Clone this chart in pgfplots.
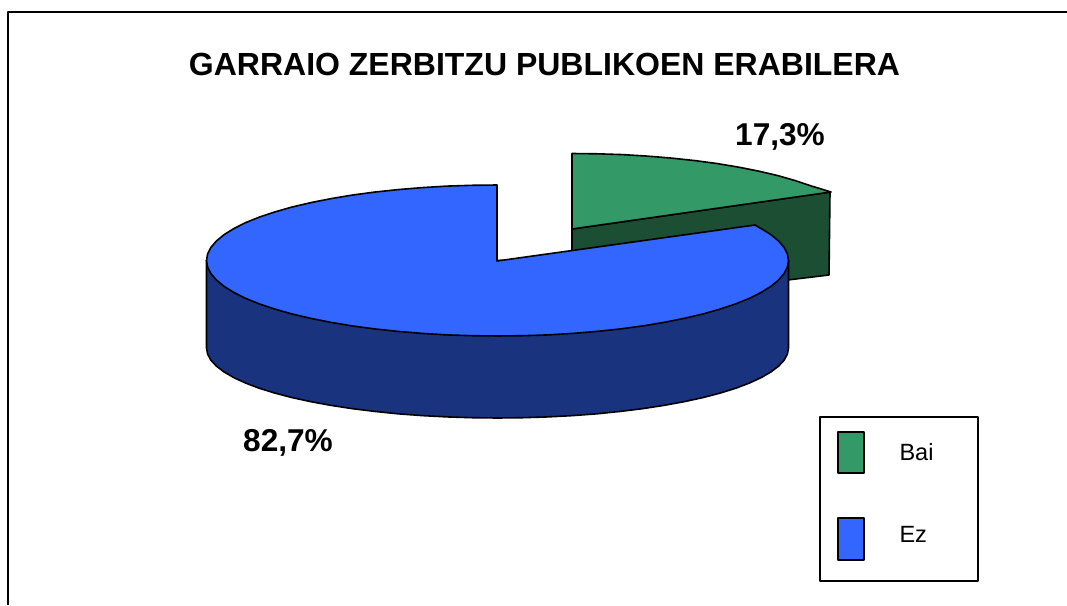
\documentclass[border=0pt]{standalone}
\usepackage{pgfplots}
\pgfplotsset{compat=1.18}
\usepackage{fontspec}
\setmainfont{Liberation Sans}
\definecolor{gtop}{HTML}{339966}
\definecolor{gside}{HTML}{1C4E33}
\definecolor{btop}{HTML}{3366FF}
\definecolor{bside}{HTML}{19337F}
\begin{document}
\begin{tikzpicture}
\path[use as bounding box] (0,0) rectangle (1067pt,605pt);
\begin{axis}[
  at={(0,0)}, anchor=south west,
  scale only axis, width=1067pt, height=605pt,
  xmin=0, xmax=1067, ymin=0, ymax=605, y dir=reverse,
  hide axis, clip=true,
  every axis plot/.append style={line join=round, mark=none}
]
% outer frame
\addplot[black, line width=2.4pt] coordinates {(8,605)(8,12)(1067,12)};
% green slice: side wall
\addplot[fill=gside, draw=black, line width=1.6pt] coordinates {(572,229)(830,192)(829,275)(572,306)} -- cycle;
% green slice: top
\addplot[fill=gtop, draw=black, line width=1.6pt] coordinates {
(572,153.5)(597.4,153.8)(622.5,154.6)(647.3,156.1)(671.5,158.1)(695,160.6)(717.5,163.6)(738.9,167.2)(759,171.2)(777.8,175.6)(794.9,180.5)(810.4,185.7)(831,192)(572,229)} -- cycle;
% blue slice: side wall
\addplot[fill=bside, draw=black, line width=1.6pt] coordinates {
(206.5,260.5)(206.5,348)(207.6,354.1)(210.9,360.2)(216.4,366.1)(224,371.9)(233.8,377.6)(245.5,383)(259.1,388.2)(274.6,393)(291.7,397.5)(310.5,401.6)(330.6,405.3)(352,408.6)(374.5,411.4)(398,413.8)(422.2,415.6)(447,416.9)(472.1,417.7)(497.5,418)
(522.9,417.7)(548,416.9)(572.8,415.6)(597,413.8)(620.5,411.4)(643,408.6)(664.4,405.3)(684.5,401.6)(703.3,397.5)(720.4,393)(735.9,388.2)(749.5,383)(761.2,377.6)(771,371.9)(778.6,366.1)(784.1,360.2)(787.4,354.1)(788.5,348)(788.5,260.5)} -- cycle;
% blue slice: top
\addplot[fill=btop, draw=black, line width=1.6pt] coordinates {
(497,185)(472.1,185.3)(447,186.1)(422.2,187.6)(398,189.6)(374.5,192.1)(352,195.1)(330.6,198.7)(310.5,202.7)(291.7,207.1)(274.6,212)(259.1,217.2)(245.5,222.7)(233.8,228.6)(224,234.7)(216.4,241)(210.9,247.4)(207.6,253.9)(206.5,260.5)
(207.6,267.1)(210.9,273.6)(216.4,280)(224,286.3)(233.8,292.4)(245.5,298.3)(259.1,303.8)(274.6,309)(291.7,313.9)(310.5,318.3)(330.6,322.3)(352,325.9)(374.5,328.9)(398,331.4)(422.2,333.4)(447,334.9)(472.1,335.7)(497.5,336)
(522.9,335.7)(548,334.9)(572.8,333.4)(597,331.4)(620.5,328.9)(643,325.9)(664.4,322.3)(684.5,318.3)(703.3,313.9)(720.4,309)(735.9,303.8)(749.5,298.3)(761.2,292.4)(771,286.3)(778.6,280)(784.1,273.6)(787.4,267.1)(788.5,260.5)
(787.4,253.9)(784.1,247.4)(778.6,241)(771,234.7)(761.2,228.6)(755,225)(497,261)} -- cycle;
% legend
\addplot[fill=white, draw=black, line width=1.8pt] coordinates {(820,417)(978,417)(978,581)(820,581)} -- cycle;
\addplot[fill=gtop, draw=black, line width=1.5pt] coordinates {(838,432)(864,432)(864,473)(838,473)} -- cycle;
\addplot[fill=btop, draw=black, line width=1.5pt] coordinates {(838,518)(864,518)(864,560)(838,560)} -- cycle;
\node[anchor=west, font=\fontsize{23.5}{26}\selectfont] at (axis cs:896,452) {Bai};
\node[anchor=west, font=\fontsize{23.5}{26}\selectfont] at (axis cs:896,534) {Ez};
% texts
\node[font=\fontsize{32}{36}\selectfont\bfseries] at (axis cs:544.5,64) {GARRAIO ZERBITZU PUBLIKOEN ERABILERA};
\node[font=\fontsize{31.6}{36}\selectfont\bfseries] at (axis cs:780,137) {17,3\%};
\node[font=\fontsize{31.6}{36}\selectfont\bfseries] at (axis cs:288,443) {82,7\%};
\end{axis}
\end{tikzpicture}
\end{document}
